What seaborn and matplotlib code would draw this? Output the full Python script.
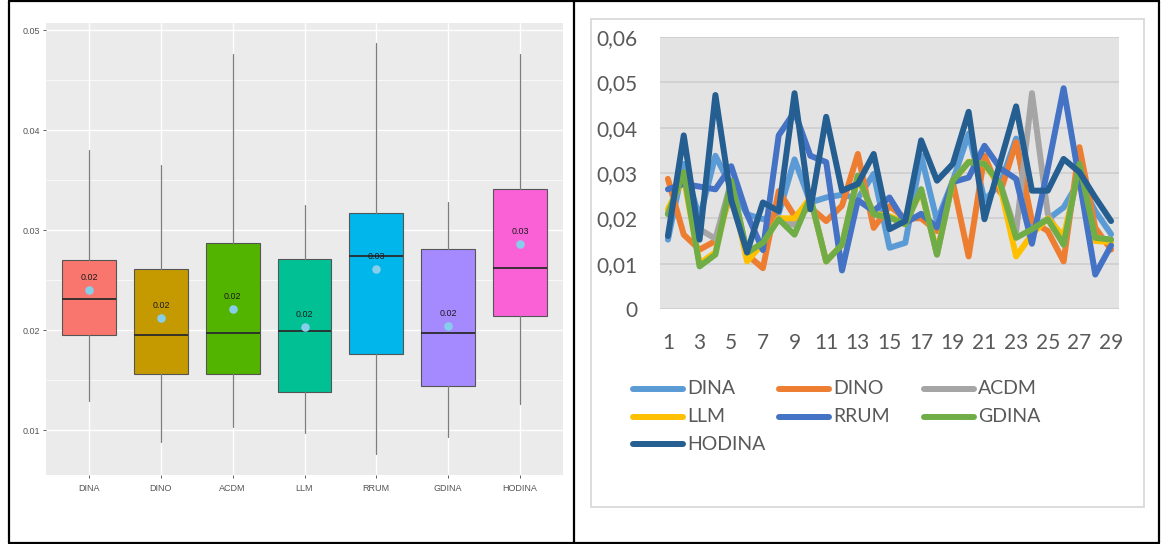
import numpy as np
import pandas as pd
import matplotlib
matplotlib.use("Agg")
import matplotlib.pyplot as plt
from matplotlib.lines import Line2D
from matplotlib.patches import Rectangle
import seaborn as sns

# ---------------- data ----------------
models = ["DINA", "DINO", "ACDM", "LLM", "RRUM", "GDINA", "HODINA"]

# box summaries (left panel)
whisker_low = [0.0129, 0.0088, 0.0103, 0.0097, 0.0076, 0.0093, 0.0126]
q1 = [0.0195, 0.0156, 0.0156, 0.0138, 0.0176, 0.0144, 0.0214]
median = [0.0231, 0.0195, 0.0197, 0.0199, 0.0274, 0.0197, 0.0262]
q3 = [0.0270, 0.0261, 0.0287, 0.0271, 0.0317, 0.0281, 0.0341]
whisker_high = [0.0380, 0.0365, 0.0476, 0.0325, 0.0487, 0.0328, 0.0476]
means = [0.0240, 0.0212, 0.0221, 0.0203, 0.0261, 0.0204, 0.0286]
box_colors = ["#F8766D", "#C49A00", "#53B400", "#00C094", "#00B6EB", "#A58AFF", "#FB61D7"]

# per-item values (right panel)
items = list(range(1, 30))
dina = [0.0153, 0.0320, 0.0200, 0.0338, 0.0270, 0.0209, 0.0198, 0.0211, 0.0330, 0.0235,
        0.0246, 0.0252, 0.0244, 0.0298, 0.0135, 0.0146, 0.0338, 0.0194, 0.0283, 0.0387,
        0.0240, 0.0276, 0.0376, 0.0180, 0.0198, 0.0224, 0.0283, 0.0216, 0.0165]
dino = [0.0287, 0.0164, 0.0131, 0.0150, 0.0255, 0.0120, 0.0090, 0.0260, 0.0205, 0.0224,
        0.0194, 0.0228, 0.0342, 0.0179, 0.0227, 0.0200, 0.0200, 0.0172, 0.0280, 0.0116,
        0.0338, 0.0257, 0.0368, 0.0194, 0.0172, 0.0105, 0.0357, 0.0179, 0.0131]
acdm = [0.0210, 0.0300, 0.0176, 0.0155, 0.0280, 0.0124, 0.0146, 0.0200, 0.0185, 0.0246,
        0.0105, 0.0142, 0.0294, 0.0209, 0.0202, 0.0187, 0.0264, 0.0120, 0.0283, 0.0324,
        0.0320, 0.0276, 0.0170, 0.0476, 0.0210, 0.0142, 0.0320, 0.0157, 0.0153]
llm = [0.0220, 0.0290, 0.0100, 0.0125, 0.0270, 0.0105, 0.0145, 0.0200, 0.0200, 0.0245,
       0.0105, 0.0142, 0.0290, 0.0210, 0.0205, 0.0190, 0.0260, 0.0125, 0.0280, 0.0325,
       0.0320, 0.0270, 0.0116, 0.0165, 0.0200, 0.0160, 0.0310, 0.0150, 0.0148]
rrum = [0.0264, 0.0276, 0.0270, 0.0264, 0.0315, 0.0209, 0.0130, 0.0383, 0.0435, 0.0338,
        0.0324, 0.0085, 0.0240, 0.0216, 0.0246, 0.0190, 0.0210, 0.0180, 0.0280, 0.0290,
        0.0360, 0.0310, 0.0287, 0.0144, 0.0310, 0.0487, 0.0283, 0.0076, 0.0140]
gdina = [0.0209, 0.0302, 0.0094, 0.0120, 0.0283, 0.0124, 0.0146, 0.0198, 0.0164, 0.0246,
         0.0105, 0.0142, 0.0294, 0.0209, 0.0202, 0.0187, 0.0264, 0.0120, 0.0283, 0.0324,
         0.0320, 0.0276, 0.0157, 0.0176, 0.0198, 0.0142, 0.0320, 0.0157, 0.0153]
hodina = [0.0161, 0.0383, 0.0153, 0.0472, 0.0240, 0.0125, 0.0235, 0.0216, 0.0476, 0.0220,
          0.0424, 0.0261, 0.0276, 0.0342, 0.0176, 0.0194, 0.0372, 0.0283, 0.0320, 0.0435,
          0.0198, 0.0324, 0.0447, 0.0261, 0.0261, 0.0331, 0.0302, 0.0246, 0.0194]
line_colors = ["#5B9BD5", "#ED7D31", "#A5A5A5", "#FFC000", "#4472C4", "#70AD47", "#255E91"]

y_ticks_right = [0, 0.01, 0.02, 0.03, 0.04, 0.05, 0.06]
y_labels_right = ["0", "0,01", "0,02", "0,03", "0,04", "0,05", "0,06"]
y_ticks_left = [0.01, 0.02, 0.03, 0.04, 0.05]
y_labels_left = ["0.01", "0.02", "0.03", "0.04", "0.05"]

# ---------------- figure ----------------
sns.set_theme(style="white")
W, H = 1161, 544
fig = plt.figure(figsize=(W / 100, H / 100), dpi=100)
fig.patch.set_facecolor("white")


def ax_rect(x0, y0, x1, y1):
    return [x0 / W, 1 - y1 / H, (x1 - x0) / W, (y1 - y0) / H]


narrow = ["Liberation Sans Narrow", "Liberation Sans", "DejaVu Sans"]
office = ["Lato", "DejaVu Sans"]

# ---------------- left: box plot ----------------
axL = fig.add_axes(ax_rect(46, 23, 563, 475))
axL.set_facecolor("#EBEBEB")
axL.set_axisbelow(True)
pos = np.arange(len(models))
stats = [dict(med=median[i], q1=q1[i], q3=q3[i], whislo=whisker_low[i],
              whishi=whisker_high[i], fliers=[], label=models[i]) for i in range(len(models))]
bp = axL.bxp(stats, positions=pos, widths=0.75, patch_artist=True, showfliers=False,
             showcaps=False,
             boxprops=dict(linewidth=0.8, edgecolor="#555555"),
             medianprops=dict(color="#2b2b2b", linewidth=1.3),
             whiskerprops=dict(color="#7d7d7d", linewidth=0.9))
for patch, c in zip(bp["boxes"], box_colors):
    patch.set_facecolor(c)

mean_df = pd.DataFrame({"pos": pos, "mean": means})
sns.scatterplot(data=mean_df, x="pos", y="mean", color="#87CEEB", s=38, linewidth=0,
                ax=axL, zorder=5, legend=False)
for i, m in enumerate(means):
    axL.annotate(f"{m:.2f}", (i, m), xytext=(0, 9), textcoords="offset points",
                 ha="center", va="center", fontsize=6.4, color="#1a1a1a", family=narrow)

axL.set_xlim(-0.6, 6.6)
axL.set_ylim(0.0055, 0.0507)
axL.set_xticks(pos)
axL.set_xticklabels(models, family=narrow)
axL.set_yticks(y_ticks_left)
axL.set_yticklabels(y_labels_left, family=narrow)
axL.set_yticks([0.015, 0.025, 0.035, 0.045], minor=True)
axL.set_xlabel("")
axL.set_ylabel("")
axL.grid(which="major", color="white", linewidth=1.0)
axL.grid(which="minor", axis="y", color="white", linewidth=0.5)
for s in axL.spines.values():
    s.set_visible(False)
axL.tick_params(axis="both", which="major", length=2.5, width=0.6, color="#444444",
                labelsize=6.5, labelcolor="#555555", pad=2, bottom=True, left=True)
axL.tick_params(axis="x", pad=4)
axL.tick_params(which="minor", length=0)

# ---------------- right: line chart ----------------
axR = fig.add_axes(ax_rect(660, 37, 1119, 309))
axR.set_facecolor("#E3E3E3")
axR.set_axisbelow(True)
series = [dina, dino, acdm, llm, rrum, gdina, hodina]
long_df = pd.concat([pd.DataFrame({"item": items, "value": v, "model": m})
                     for m, v in zip(models, series)], ignore_index=True)
sns.lineplot(data=long_df, x="item", y="value", hue="model", hue_order=models,
             palette=line_colors, linewidth=4.3, estimator=None, sort=False,
             legend=False, ax=axR)
for ln in axR.lines:
    ln.set_solid_joinstyle("round")
    ln.set_solid_capstyle("round")

axR.set_xlim(0.5, 29.5)
axR.set_ylim(0, 0.06)
axR.set_yticks(y_ticks_right)
axR.set_yticklabels(y_labels_right, family=office)
axR.set_xticks(items[::2])
axR.set_xticklabels([str(i) for i in items[::2]], family=office)
axR.set_xlabel("")
axR.set_ylabel("")
axR.grid(axis="y", color="#D0D0D0", linewidth=1.3)
axR.grid(axis="x", visible=False)
for s in axR.spines.values():
    s.set_visible(False)
axR.tick_params(axis="both", length=0, labelsize=15, labelcolor="#595959")
axR.tick_params(axis="y", pad=16.5)
axR.tick_params(axis="x", pad=17)

# legend for the line chart
leg_rows = [389, 417, 444]
leg_cols = [633, 779, 924]
for k, (m, c) in enumerate(zip(models, line_colors)):
    r, cidx = divmod(k, 3)
    x0, y0 = leg_cols[cidx], leg_rows[r]
    fig.add_artist(Line2D([x0 / W, (x0 + 50) / W], [1 - y0 / H, 1 - y0 / H], color=c,
                          linewidth=4.3, solid_capstyle="round", transform=fig.transFigure))
    fig.text((x0 + 54) / W, 1 - y0 / H, m, ha="left", va="center", fontsize=14,
             color="#595959", family=office)

# chart-area border of the line chart
fig.add_artist(Rectangle((591 / W, 1 - 507 / H), (1144 - 591) / W, (507 - 19) / H,
                         transform=fig.transFigure, fill=False, edgecolor="#D9D9D9",
                         linewidth=1.3))

# table frame around the two panels
frame = dict(color="black", linewidth=1.6, transform=fig.transFigure)
fig.add_artist(Line2D([8.5 / W, 1158.5 / W], [1 - 1 / H, 1 - 1 / H], **frame))
fig.add_artist(Line2D([8.5 / W, 1158.5 / W], [1 - 542.5 / H, 1 - 542.5 / H], **frame))
fig.add_artist(Line2D([8.5 / W, 8.5 / W], [1 - 1 / H, 1 - 542.5 / H], **frame))
fig.add_artist(Line2D([1158.5 / W, 1158.5 / W], [1 - 1 / H, 1 - 542.5 / H], **frame))
fig.add_artist(Line2D([573.5 / W, 573.5 / W], [1 - 1 / H, 1 - 542.5 / H], **frame))

fig.savefig("out.png", dpi=100, facecolor="white")
